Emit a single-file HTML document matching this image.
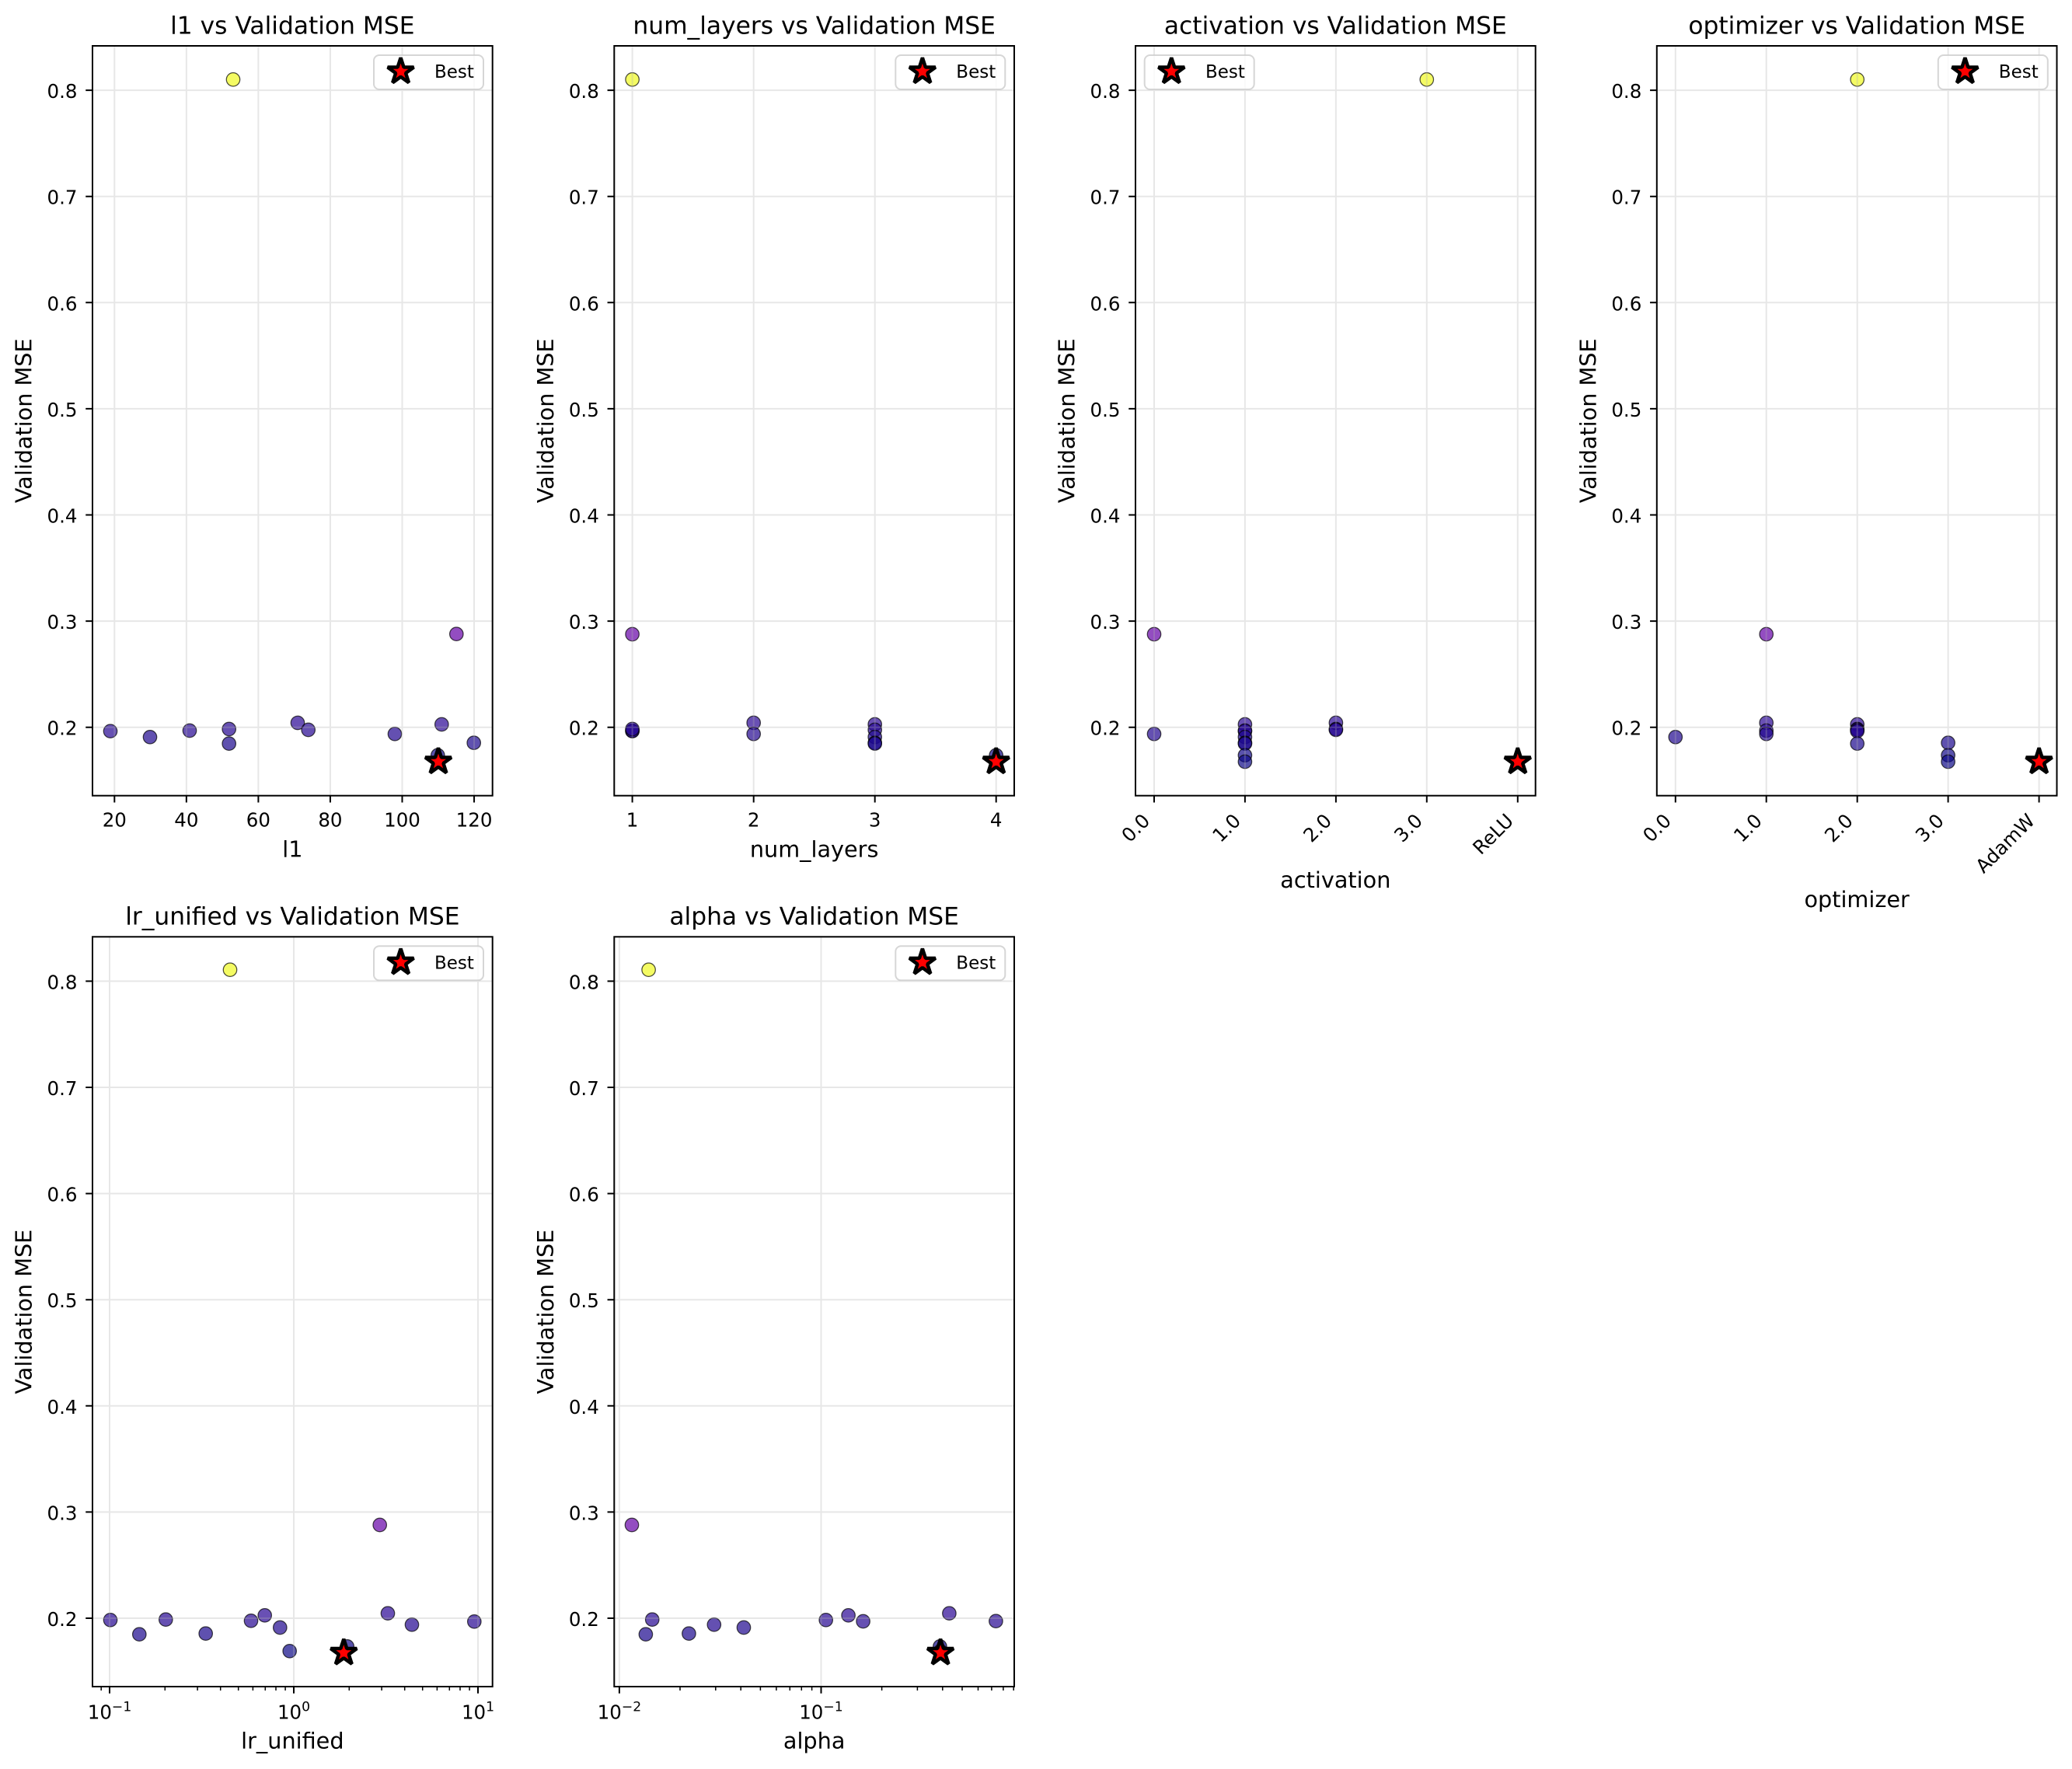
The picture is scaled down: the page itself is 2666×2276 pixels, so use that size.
<!DOCTYPE html>
<html><head><meta charset="utf-8"><style>
html,body{margin:0;padding:0;background:#fff}
svg{display:block}
text{font-family:"DejaVu Sans","Liberation Sans",sans-serif;fill:#000}
.t{font-size:24.5px}.ti{font-size:31.3px}.lb{font-size:28.7px}.lg{font-size:23px}
.g{stroke:#b0b0b0;stroke-opacity:.3;stroke-width:2;fill:none}
.k{stroke:#000;stroke-width:2;fill:none}
.m{stroke:#000;stroke-width:1.5;fill:none}
.sp{fill:none;stroke:#000;stroke-width:2}
circle{stroke:#000;stroke-opacity:.7;fill-opacity:.7;stroke-width:1.25}
.c0{fill:#0d0887}.c1{fill:#120889}.c2{fill:#1b078d}.c3{fill:#1f078f}.c4{fill:#220690}.c5{fill:#250691}.c6{fill:#2a0694}.cp{fill:#6501a7}.cy{fill:#f0f921}
.lf{fill:#fff;fill-opacity:.8;stroke:#ccc;stroke-opacity:.8;stroke-width:2}
</style></head><body>
<svg width="2666" height="2276" viewBox="0 0 2666 2276" xmlns="http://www.w3.org/2000/svg">
<defs>
<path id="st" d="M0,-17.7 L3.97,-5.47 L16.83,-5.47 L6.43,2.09 L10.4,14.32 L0,6.76 L-10.4,14.32 L-6.43,2.09 L-16.83,-5.47 L-3.97,-5.47 Z" fill="#ff0000" stroke="#000" stroke-width="4.5" stroke-linejoin="bevel"/>
</defs>
<rect width="2666" height="2276" fill="#fff"/>

<!-- ===== Axes 1: l1 ===== -->
<g transform="translate(119,59)">
<text class="ti" x="257.35" y="-15.7" text-anchor="middle">l1 vs Validation MSE</text>
<circle class="c5" cx="23" cy="881.7" r="8.7"/>
<circle class="c3" cx="74" cy="889.3" r="8.7"/>
<circle class="c5" cx="125" cy="881" r="8.7"/>
<circle class="c5" cx="175.7" cy="879" r="8.7"/>
<circle class="c2" cx="175.7" cy="897.7" r="8.7"/>
<circle class="cy" cx="181" cy="43.3" r="8.7"/>
<circle class="c6" cx="264" cy="871" r="8.7"/>
<circle class="c5" cx="277.7" cy="880" r="8.7"/>
<circle class="c4" cx="389" cy="885.3" r="8.7"/>
<circle class="c6" cx="449.3" cy="873" r="8.7"/>
<circle class="c2" cx="490.7" cy="896.7" r="8.7"/>
<circle class="cp" cx="468.3" cy="756.7" r="8.7"/>
<circle class="c1" cx="444.3" cy="912.7" r="8.7"/>
<circle class="c0" cx="445" cy="921" r="8.7"/>
<path class="g" d="M0 876.7H514.7M0 740.1H514.7M0 603.5H514.7M0 466.9H514.7M0 330.3H514.7M0 193.7H514.7M0 57.1H514.7M28.3 0V964.7M120.85 0V964.7M213.4 0V964.7M305.95 0V964.7M398.5 0V964.7M491.05 0V964.7"/>
<use href="#st" x="445" y="921"/>
<rect class="sp" x="0" y="0" width="514.7" height="964.7"/>
<path class="k" d="M-8.75 876.7H0M-8.75 740.1H0M-8.75 603.5H0M-8.75 466.9H0M-8.75 330.3H0M-8.75 193.7H0M-8.75 57.1H0M28.3 964.7v8.75M120.85 964.7v8.75M213.4 964.7v8.75M305.95 964.7v8.75M398.5 964.7v8.75M491.05 964.7v8.75"/>
<g class="t" text-anchor="end"><text x="-19.5" y="886.7">0.2</text><text x="-19.5" y="750.1">0.3</text><text x="-19.5" y="613.5">0.4</text><text x="-19.5" y="476.9">0.5</text><text x="-19.5" y="340.3">0.6</text><text x="-19.5" y="203.7">0.7</text><text x="-19.5" y="67.1">0.8</text></g>
<g class="t" text-anchor="middle"><text x="28.3" y="1004.3">20</text><text x="120.85" y="1004.3">40</text><text x="213.4" y="1004.3">60</text><text x="305.95" y="1004.3">80</text><text x="398.5" y="1004.3">100</text><text x="491.05" y="1004.3">120</text></g>
<text class="lb" x="257.35" y="1043.5" text-anchor="middle">l1</text>
<text class="lb" transform="translate(-78.3,482.35) rotate(-90)" text-anchor="middle">Validation MSE</text>
<rect class="lf" x="362" y="12" width="141" height="44" rx="7"/>
<use href="#st" x="396.6" y="33"/>
<text class="lg" x="440" y="41">Best</text>
</g>

<!-- ===== Axes 2: num_layers ===== -->
<g transform="translate(790.3,59)">
<text class="ti" x="257.35" y="-15.7" text-anchor="middle">num_layers vs Validation MSE</text>
<circle class="cy" cx="23.3" cy="43.3" r="8.7"/>
<circle class="cp" cx="23.3" cy="757" r="8.7"/>
<circle class="c5" cx="23.3" cy="881.7" r="8.7"/>
<circle class="c5" cx="23.3" cy="881.3" r="8.7"/>
<circle class="c5" cx="23.3" cy="879" r="8.7"/>
<circle class="c6" cx="179.4" cy="871" r="8.7"/>
<circle class="c4" cx="179.4" cy="885.3" r="8.7"/>
<circle class="c6" cx="335.4" cy="873" r="8.7"/>
<circle class="c5" cx="335.4" cy="880" r="8.7"/>
<circle class="c3" cx="335.4" cy="889.3" r="8.7"/>
<circle class="c2" cx="335.4" cy="896.7" r="8.7"/>
<circle class="c2" cx="335.4" cy="897.7" r="8.7"/>
<circle class="c1" cx="491.4" cy="912.7" r="8.7"/>
<circle class="c0" cx="491.4" cy="921" r="8.7"/>
<path class="g" d="M0 876.7H514.7M0 740.1H514.7M0 603.5H514.7M0 466.9H514.7M0 330.3H514.7M0 193.7H514.7M0 57.1H514.7M23.3 0V964.7M179.4 0V964.7M335.4 0V964.7M491.4 0V964.7"/>
<use href="#st" x="491.4" y="921"/>
<rect class="sp" x="0" y="0" width="514.7" height="964.7"/>
<path class="k" d="M-8.75 876.7H0M-8.75 740.1H0M-8.75 603.5H0M-8.75 466.9H0M-8.75 330.3H0M-8.75 193.7H0M-8.75 57.1H0M23.3 964.7v8.75M179.4 964.7v8.75M335.4 964.7v8.75M491.4 964.7v8.75"/>
<g class="t" text-anchor="end"><text x="-19.5" y="886.7">0.2</text><text x="-19.5" y="750.1">0.3</text><text x="-19.5" y="613.5">0.4</text><text x="-19.5" y="476.9">0.5</text><text x="-19.5" y="340.3">0.6</text><text x="-19.5" y="203.7">0.7</text><text x="-19.5" y="67.1">0.8</text></g>
<g class="t" text-anchor="middle"><text x="23.3" y="1004.3">1</text><text x="179.4" y="1004.3">2</text><text x="335.4" y="1004.3">3</text><text x="491.4" y="1004.3">4</text></g>
<text class="lb" x="257.35" y="1043.5" text-anchor="middle">num_layers</text>
<text class="lb" transform="translate(-78.3,482.35) rotate(-90)" text-anchor="middle">Validation MSE</text>
<rect class="lf" x="362" y="12" width="141" height="44" rx="7"/>
<use href="#st" x="396.6" y="33"/>
<text class="lg" x="440" y="41">Best</text>
</g>

<!-- ===== Axes 3: activation ===== -->
<g transform="translate(1461,59)">
<text class="ti" x="257.35" y="-15.7" text-anchor="middle">activation vs Validation MSE</text>
<circle class="cp" cx="24" cy="757" r="8.7"/>
<circle class="c4" cx="24" cy="885.3" r="8.7"/>
<circle class="c6" cx="140.9" cy="873" r="8.7"/>
<circle class="c5" cx="140.9" cy="881.7" r="8.7"/>
<circle class="c5" cx="140.9" cy="881" r="8.7"/>
<circle class="c3" cx="140.9" cy="889.3" r="8.7"/>
<circle class="c2" cx="140.9" cy="896.7" r="8.7"/>
<circle class="c2" cx="140.9" cy="897.7" r="8.7"/>
<circle class="c1" cx="140.9" cy="912.7" r="8.7"/>
<circle class="c0" cx="140.9" cy="921" r="8.7"/>
<circle class="c6" cx="257.9" cy="871" r="8.7"/>
<circle class="c5" cx="257.9" cy="879" r="8.7"/>
<circle class="c5" cx="257.9" cy="880" r="8.7"/>
<circle class="cy" cx="374.8" cy="43.3" r="8.7"/>
<path class="g" d="M0 876.7H514.7M0 740.1H514.7M0 603.5H514.7M0 466.9H514.7M0 330.3H514.7M0 193.7H514.7M0 57.1H514.7M24 0V964.7M140.9 0V964.7M257.9 0V964.7M374.8 0V964.7M491.8 0V964.7"/>
<use href="#st" x="491.8" y="921"/>
<rect class="sp" x="0" y="0" width="514.7" height="964.7"/>
<path class="k" d="M-8.75 876.7H0M-8.75 740.1H0M-8.75 603.5H0M-8.75 466.9H0M-8.75 330.3H0M-8.75 193.7H0M-8.75 57.1H0M24 964.7v8.75M140.9 964.7v8.75M257.9 964.7v8.75M374.8 964.7v8.75M491.8 964.7v8.75"/>
<g class="t" text-anchor="end"><text x="-19.5" y="886.7">0.2</text><text x="-19.5" y="750.1">0.3</text><text x="-19.5" y="613.5">0.4</text><text x="-19.5" y="476.9">0.5</text><text x="-19.5" y="340.3">0.6</text><text x="-19.5" y="203.7">0.7</text><text x="-19.5" y="67.1">0.8</text></g>
<g class="t" text-anchor="end">
<text transform="translate(20,998.5) rotate(-45)">0.0</text>
<text transform="translate(136.9,998.5) rotate(-45)">1.0</text>
<text transform="translate(253.9,998.5) rotate(-45)">2.0</text>
<text transform="translate(370.8,998.5) rotate(-45)">3.0</text>
<text transform="translate(487.8,998.5) rotate(-45)">ReLU</text>
</g>
<text class="lb" x="257.35" y="1083" text-anchor="middle">activation</text>
<text class="lb" transform="translate(-78.3,482.35) rotate(-90)" text-anchor="middle">Validation MSE</text>
<rect class="lf" x="11.7" y="12" width="141" height="44" rx="7"/>
<use href="#st" x="46.3" y="33"/>
<text class="lg" x="90" y="41">Best</text>
</g>

<!-- ===== Axes 4: optimizer ===== -->
<g transform="translate(2131.8,59)">
<text class="ti" x="257.35" y="-15.7" text-anchor="middle">optimizer vs Validation MSE</text>
<circle class="c3" cx="24" cy="889.3" r="8.7"/>
<circle class="cp" cx="140.9" cy="757" r="8.7"/>
<circle class="c6" cx="140.9" cy="871" r="8.7"/>
<circle class="c5" cx="140.9" cy="881" r="8.7"/>
<circle class="c4" cx="140.9" cy="885.3" r="8.7"/>
<circle class="cy" cx="257.9" cy="43.3" r="8.7"/>
<circle class="c6" cx="257.9" cy="873" r="8.7"/>
<circle class="c5" cx="257.9" cy="879" r="8.7"/>
<circle class="c5" cx="257.9" cy="880" r="8.7"/>
<circle class="c5" cx="257.9" cy="881.7" r="8.7"/>
<circle class="c2" cx="257.9" cy="897.7" r="8.7"/>
<circle class="c2" cx="374.8" cy="896.7" r="8.7"/>
<circle class="c1" cx="374.8" cy="912.7" r="8.7"/>
<circle class="c0" cx="374.8" cy="921" r="8.7"/>
<path class="g" d="M0 876.7H514.7M0 740.1H514.7M0 603.5H514.7M0 466.9H514.7M0 330.3H514.7M0 193.7H514.7M0 57.1H514.7M24 0V964.7M140.9 0V964.7M257.9 0V964.7M374.8 0V964.7M491.8 0V964.7"/>
<use href="#st" x="491.8" y="921"/>
<rect class="sp" x="0" y="0" width="514.7" height="964.7"/>
<path class="k" d="M-8.75 876.7H0M-8.75 740.1H0M-8.75 603.5H0M-8.75 466.9H0M-8.75 330.3H0M-8.75 193.7H0M-8.75 57.1H0M24 964.7v8.75M140.9 964.7v8.75M257.9 964.7v8.75M374.8 964.7v8.75M491.8 964.7v8.75"/>
<g class="t" text-anchor="end"><text x="-19.5" y="886.7">0.2</text><text x="-19.5" y="750.1">0.3</text><text x="-19.5" y="613.5">0.4</text><text x="-19.5" y="476.9">0.5</text><text x="-19.5" y="340.3">0.6</text><text x="-19.5" y="203.7">0.7</text><text x="-19.5" y="67.1">0.8</text></g>
<g class="t" text-anchor="end">
<text transform="translate(20,998.5) rotate(-45)">0.0</text>
<text transform="translate(136.9,998.5) rotate(-45)">1.0</text>
<text transform="translate(253.9,998.5) rotate(-45)">2.0</text>
<text transform="translate(370.8,998.5) rotate(-45)">3.0</text>
<text transform="translate(487.8,998.5) rotate(-45)">AdamW</text>
</g>
<text class="lb" x="257.35" y="1108" text-anchor="middle">optimizer</text>
<text class="lb" transform="translate(-78.3,482.35) rotate(-90)" text-anchor="middle">Validation MSE</text>
<rect class="lf" x="362" y="12" width="141" height="44" rx="7"/>
<use href="#st" x="396.6" y="33"/>
<text class="lg" x="440" y="41">Best</text>
</g>

<!-- ===== Axes 5: lr_unified ===== -->
<g transform="translate(119,1205.3)">
<text class="ti" x="257.35" y="-15.7" text-anchor="middle">lr_unified vs Validation MSE</text>
<circle class="c5" cx="23" cy="879" r="8.7"/>
<circle class="c2" cx="60.3" cy="897.4" r="8.7"/>
<circle class="c5" cx="94.3" cy="878.4" r="8.7"/>
<circle class="c2" cx="145.7" cy="896.4" r="8.7"/>
<circle class="c5" cx="204" cy="880" r="8.7"/>
<circle class="c6" cx="221.7" cy="873" r="8.7"/>
<circle class="c3" cx="241.3" cy="888.7" r="8.7"/>
<circle class="c0" cx="253.7" cy="919" r="8.7"/>
<circle class="c1" cx="327.7" cy="913" r="8.7"/>
<circle class="cp" cx="369.7" cy="756.7" r="8.7"/>
<circle class="c6" cx="380" cy="870.4" r="8.7"/>
<circle class="c4" cx="411" cy="885" r="8.7"/>
<circle class="c5" cx="491.3" cy="881" r="8.7"/>
<circle class="cy" cx="177" cy="42.4" r="8.7"/>
<path class="g" d="M0 876.7H514.7M0 740.1H514.7M0 603.5H514.7M0 466.9H514.7M0 330.3H514.7M0 193.7H514.7M0 57.1H514.7M22 0V964.7M259 0V964.7M496 0V964.7"/>
<use href="#st" x="323.3" y="921.2"/>
<rect class="sp" x="0" y="0" width="514.7" height="964.7"/>
<path class="k" d="M-8.75 876.7H0M-8.75 740.1H0M-8.75 603.5H0M-8.75 466.9H0M-8.75 330.3H0M-8.75 193.7H0M-8.75 57.1H0M22 964.7v8.75M259 964.7v8.75M496 964.7v8.75"/>
<path class="m" d="M11.2 964.7v5M93.3 964.7v5M135.1 964.7v5M164.7 964.7v5M187.7 964.7v5M206.4 964.7v5M222.3 964.7v5M236 964.7v5M248.1 964.7v5M330.3 964.7v5M372.1 964.7v5M401.7 964.7v5M424.7 964.7v5M443.4 964.7v5M459.3 964.7v5M473 964.7v5M485.1 964.7v5"/>
<g class="t" text-anchor="end"><text x="-19.5" y="886.7">0.2</text><text x="-19.5" y="750.1">0.3</text><text x="-19.5" y="613.5">0.4</text><text x="-19.5" y="476.9">0.5</text><text x="-19.5" y="340.3">0.6</text><text x="-19.5" y="203.7">0.7</text><text x="-19.5" y="67.1">0.8</text></g>
<g class="t" text-anchor="middle">
<text x="22" y="1006.2">10<tspan dy="-10" font-size="17.2px">−1</tspan></text>
<text x="259" y="1006.2">10<tspan dy="-10" font-size="17.2px">0</tspan></text>
<text x="496" y="1006.2">10<tspan dy="-10" font-size="17.2px">1</tspan></text>
</g>
<text class="lb" x="257.35" y="1044.2" text-anchor="middle">lr_unified</text>
<text class="lb" transform="translate(-78.3,482.35) rotate(-90)" text-anchor="middle">Validation MSE</text>
<rect class="lf" x="362" y="12" width="141" height="44" rx="7"/>
<use href="#st" x="396.6" y="33"/>
<text class="lg" x="440" y="41">Best</text>
</g>

<!-- ===== Axes 6: alpha ===== -->
<g transform="translate(790.3,1205.3)">
<text class="ti" x="257.35" y="-15.7" text-anchor="middle">alpha vs Validation MSE</text>
<circle class="cp" cx="22.7" cy="756.7" r="8.7"/>
<circle class="c2" cx="40.6" cy="897.4" r="8.7"/>
<circle class="c5" cx="48.9" cy="878.4" r="8.7"/>
<circle class="c2" cx="96.1" cy="896.4" r="8.7"/>
<circle class="c4" cx="128.5" cy="885" r="8.7"/>
<circle class="c3" cx="166.7" cy="888.7" r="8.7"/>
<circle class="c5" cx="272.4" cy="879" r="8.7"/>
<circle class="c6" cx="301.3" cy="873" r="8.7"/>
<circle class="c5" cx="320.3" cy="880.7" r="8.7"/>
<circle class="c1" cx="419.1" cy="913" r="8.7"/>
<circle class="c0" cx="419.7" cy="919" r="8.7"/>
<circle class="c6" cx="431.1" cy="870.4" r="8.7"/>
<circle class="c5" cx="491.1" cy="880.4" r="8.7"/>
<circle class="cy" cx="44.3" cy="42.4" r="8.7"/>
<path class="g" d="M0 876.7H514.7M0 740.1H514.7M0 603.5H514.7M0 466.9H514.7M0 330.3H514.7M0 193.7H514.7M0 57.1H514.7M6.6 0V964.7M266.2 0V964.7"/>
<use href="#st" x="419.8" y="921.2"/>
<rect class="sp" x="0" y="0" width="514.7" height="964.7"/>
<path class="k" d="M-8.75 876.7H0M-8.75 740.1H0M-8.75 603.5H0M-8.75 466.9H0M-8.75 330.3H0M-8.75 193.7H0M-8.75 57.1H0M6.6 964.7v8.75M266.2 964.7v8.75"/>
<path class="m" d="M84.7 964.7v5M130.5 964.7v5M162.9 964.7v5M188.1 964.7v5M208.6 964.7v5M226 964.7v5M241 964.7v5M254.3 964.7v5M344.3 964.7v5M390.1 964.7v5M422.5 964.7v5M447.7 964.7v5M468.2 964.7v5M485.6 964.7v5M500.6 964.7v5M513.9 964.7v5"/>
<g class="t" text-anchor="end"><text x="-19.5" y="886.7">0.2</text><text x="-19.5" y="750.1">0.3</text><text x="-19.5" y="613.5">0.4</text><text x="-19.5" y="476.9">0.5</text><text x="-19.5" y="340.3">0.6</text><text x="-19.5" y="203.7">0.7</text><text x="-19.5" y="67.1">0.8</text></g>
<g class="t" text-anchor="middle">
<text x="6.6" y="1006.2">10<tspan dy="-10" font-size="17.2px">−2</tspan></text>
<text x="266.2" y="1006.2">10<tspan dy="-10" font-size="17.2px">−1</tspan></text>
</g>
<text class="lb" x="257.35" y="1044.2" text-anchor="middle">alpha</text>
<text class="lb" transform="translate(-78.3,482.35) rotate(-90)" text-anchor="middle">Validation MSE</text>
<rect class="lf" x="362" y="12" width="141" height="44" rx="7"/>
<use href="#st" x="396.6" y="33"/>
<text class="lg" x="440" y="41">Best</text>
</g>
</svg>
</body></html>
